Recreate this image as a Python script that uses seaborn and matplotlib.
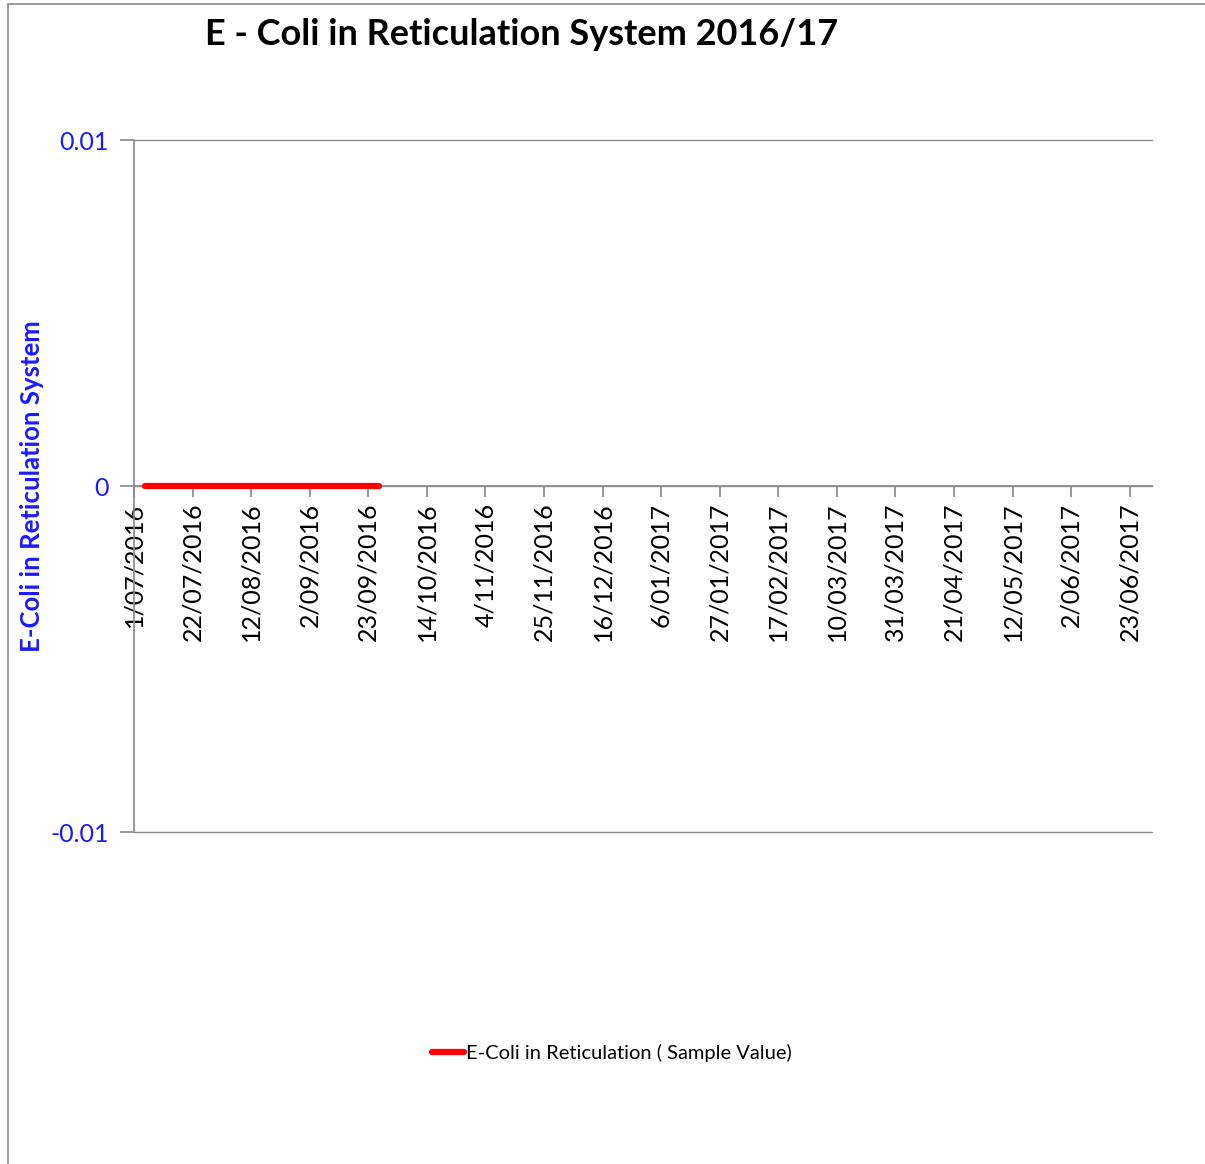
import pandas as pd
import matplotlib
matplotlib.use('Agg')
import matplotlib.pyplot as plt
import matplotlib.dates as mdates
from matplotlib.ticker import FixedLocator, FixedFormatter
from matplotlib.lines import Line2D
import seaborn as sns

# sample dates and values (all zero)
fechas = pd.date_range('2016-07-05', '2016-09-27', freq='7D')
valores = [0] * len(fechas)
serie = 'E-Coli in Reticulation ( Sample Value)'
titulo = 'E - Coli in Reticulation System 2016/17'
eje_y = 'E-Coli in Reticulation System'

ticks_x = pd.date_range('2016-07-01', '2017-06-23', freq='21D')
etiquetas_x = [f'{d.day}/{d:%m/%Y}' for d in ticks_x]

df = pd.DataFrame({'Fecha': fechas, 'Valor': valores})

sns.set_theme(style='white')
plt.rcParams['font.family'] = ['Lato', 'DejaVu Sans']
plt.rcParams['text.color'] = 'black'

fig = plt.figure(figsize=(12.05, 11.64), dpi=100)
ax = fig.add_axes([0.1112, 0.2852, 0.8448, 0.5945])

sns.lineplot(data=df, x='Fecha', y='Valor', ax=ax, color='#ff0000', lw=4.5,
             solid_capstyle='round', label=serie, zorder=5)

ax.set_xlim(pd.Timestamp('2016-07-01'), pd.Timestamp('2017-07-01'))
ax.set_ylim(-0.01, 0.01)
ax.set_yticks([-0.01, 0, 0.01])
ax.set_yticklabels(['-0.01', '0', '0.01'], color='#1a1aff', fontsize=18)
ax.xaxis.set_major_locator(FixedLocator(mdates.date2num(ticks_x)))
ax.xaxis.set_major_formatter(FixedFormatter(etiquetas_x))
ax.xaxis.set_minor_locator(FixedLocator([]))

ax.grid(axis='y', color='#8c8c8c', lw=1)
for g in ax.get_ygridlines():
    g.set_clip_on(False)
for s in ['top', 'right']:
    ax.spines[s].set_visible(False)
ax.spines['left'].set_color('#8c8c8c')
ax.spines['bottom'].set_color('#8c8c8c')
ax.spines['bottom'].set_position(('data', 0))
ax.tick_params(axis='x', direction='out', length=8, color='#8c8c8c', pad=4, bottom=True,
               labelrotation=90, labelsize=18, labelcolor='black')
ax.tick_params(axis='y', direction='out', length=10, color='#8c8c8c', pad=8, left=True)

ax.set_xlabel('')
ax.set_ylabel(eje_y, color='#1a1aff', fontsize=18.5, fontweight='bold')
ax.yaxis.set_label_coords(-0.088, 0.5)

fig.text(0.170, 0.970, titulo, fontsize=26, fontweight='bold', ha='left', va='center',
         color='black')

ax.legend(loc='center', bbox_to_anchor=(0.508, 0.0954), bbox_transform=fig.transFigure,
          frameon=False, fontsize=14.5, handlelength=1.6, handletextpad=0.1)

# outer frame
fig.add_artist(Line2D([0.0066, 1.0], [0.9966, 0.9966], color='#8c8c8c', lw=1.2))
fig.add_artist(Line2D([0.0066, 0.0066], [0.0, 0.9966], color='#8c8c8c', lw=1.2))

fig.savefig('out.png', dpi=100)
